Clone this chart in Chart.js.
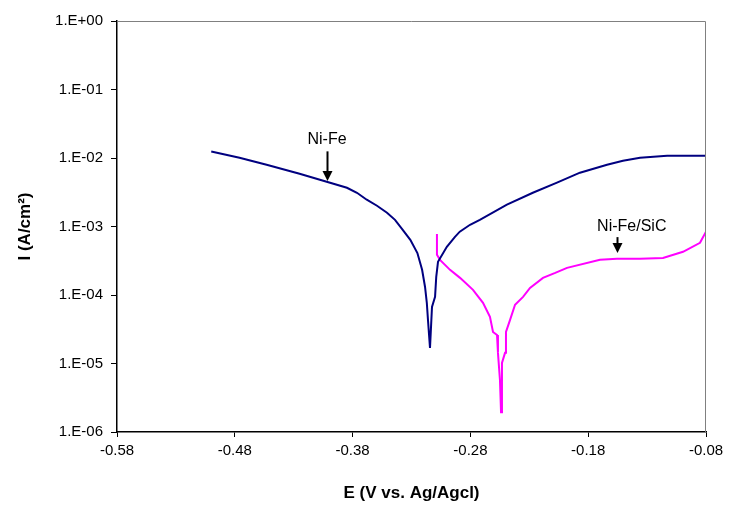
<!DOCTYPE html>
<html>
<head>
<meta charset="utf-8">
<script src="https://cdn.jsdelivr.net/npm/chart.js@4/dist/chart.umd.min.js"></script>
<style>
  html, body { margin: 0; padding: 0; background: #fff; }
  #wrap { width: 732px; height: 508px; }
</style>
</head>
<body>
<div id="wrap"><canvas id="tafelChart" width="732" height="508"></canvas></div>
<script>
// Tafel curves: potential E (V vs Ag/AgCl) and current density I (A/cm2)
const eNiFe = [-0.500, -0.476, -0.453, -0.425, -0.402, -0.3848, -0.3763, -0.368, -0.3593, -0.3508,
               -0.344, -0.3381, -0.331, -0.325, -0.321, -0.3185, -0.317, -0.316, -0.3143, -0.3126,
               -0.310, -0.309, -0.3075, -0.300, -0.2931, -0.289, -0.2803, -0.272, -0.249, -0.227,
               -0.2065, -0.187, -0.164, -0.1505, -0.136, -0.113, -0.080];
const iNiFe = [1.24e-2, 1.01e-2, 7.98e-3, 5.9e-3, 4.5e-3, 3.68e-3, 3.11e-3, 2.46e-3, 2.01e-3, 1.59e-3,
               1.25e-3, 9.25e-4, 6.4e-4, 4.1e-4, 2.33e-4, 1.31e-4, 7.7e-5, 4.3e-5, 1.69e-5, 6.7e-5,
               9.4e-5, 1.84e-4, 3.05e-4, 5.05e-4, 7.07e-4, 8.4e-4, 1.06e-3, 1.25e-3, 2.08e-3, 3.11e-3,
               4.36e-3, 6.1e-3, 7.98e-3, 9.1e-3, 1.01e-2, 1.08e-2, 1.08e-2];

const eNiFeSiC = [-0.3084, -0.3084, -0.3058, -0.2973, -0.2888, -0.2778, -0.2693, -0.2634, -0.2608, -0.2574,
                  -0.2566, -0.2549, -0.2540, -0.2532, -0.2506, -0.2498, -0.2464, -0.2421, -0.2353, -0.2294,
                  -0.2184, -0.208, -0.198, -0.170, -0.1556, -0.136, -0.1165, -0.0995, -0.0851, -0.080];
const iNiFeSiC = [7.8e-4, 3.86e-4, 3.26e-4, 2.33e-4, 1.78e-4, 1.19e-4, 7.7e-5, 4.8e-5, 2.89e-5, 2.61e-5,
                  1.43e-5, 5.7e-6, 1.95e-6, 1.02e-5, 1.43e-5, 2.89e-5, 4.3e-5, 7.2e-5, 9.4e-5, 1.27e-4,
                  1.78e-4, 2.1e-4, 2.49e-4, 3.26e-4, 3.37e-4, 3.37e-4, 3.48e-4, 4.27e-4, 5.78e-4, 8.4e-4];

const seriesNames = ['Ni-Fe', 'Ni-Fe/SiC'];

const xTickValues = [-0.58, -0.48, -0.38, -0.28, -0.18, -0.08];
const yTickValues = [1e-6, 1e-5, 1e-4, 1e-3, 1e-2, 1e-1, 1];
const yTickLabels = ['1.E-06', '1.E-05', '1.E-04', '1.E-03', '1.E-02', '1.E-01', '1.E+00'];

const FONT = "'Liberation Sans', Arial, sans-serif";

function toPoints(xs, ys) {
    return xs.map((x, i) => ({ x: x, y: ys[i] }));
}

// gray top/right frame plus the two arrow labels
const framePlugin = {
    id: 'frameAndLabels',
    afterDatasetsDraw(chart) {
        const ctx = chart.ctx;
        const a = chart.chartArea;
        const xs = chart.scales.x;
        const ys = chart.scales.y;

        ctx.save();
        ctx.strokeStyle = '#808080';
        ctx.lineWidth = 1;
        ctx.beginPath();
        ctx.moveTo(a.left, a.top + 0.5);
        ctx.lineTo(a.right - 0.5, a.top + 0.5);
        ctx.lineTo(a.right - 0.5, a.bottom);
        ctx.stroke();

        const labels = [
            { text: seriesNames[0], tx: -0.4017, ty: 1.85e-2, ax: -0.4017, y0: 1.25e-2, y1: 4.6e-3 },
            { text: seriesNames[1], tx: -0.143, ty: 1.0e-3, ax: -0.1556, y0: 7.0e-4, y1: 4.1e-4 }
        ];
        ctx.fillStyle = '#000';
        ctx.strokeStyle = '#000';
        ctx.font = '16px ' + FONT;
        ctx.textAlign = 'center';
        ctx.textBaseline = 'middle';
        labels.forEach(l => {
            ctx.fillText(l.text, xs.getPixelForValue(l.tx), ys.getPixelForValue(l.ty));
            const px = Math.round(xs.getPixelForValue(l.ax)) + 0.5;
            const p0 = ys.getPixelForValue(l.y0);
            const p1 = ys.getPixelForValue(l.y1);
            ctx.lineWidth = 2;
            ctx.beginPath();
            ctx.moveTo(px, p0);
            ctx.lineTo(px, p1 - 8);
            ctx.stroke();
            ctx.beginPath();
            ctx.moveTo(px - 5, p1 - 10);
            ctx.lineTo(px + 5, p1 - 10);
            ctx.lineTo(px, p1);
            ctx.closePath();
            ctx.fill();
        });
        ctx.restore();
    }
};

new Chart(document.getElementById('tafelChart').getContext('2d'), {
    type: 'scatter',
    data: {
        datasets: [{
            label: seriesNames[0],
            data: toPoints(eNiFe, iNiFe),
            showLine: true,
            borderColor: '#000080',
            borderWidth: 2,
            pointRadius: 0,
            tension: 0
        }, {
            label: seriesNames[1],
            data: toPoints(eNiFeSiC, iNiFeSiC),
            showLine: true,
            borderColor: '#ff00ff',
            borderWidth: 2,
            pointRadius: 0,
            tension: 0
        }]
    },
    options: {
        responsive: false,
        animation: false,
        devicePixelRatio: 1,
        layout: { padding: { top: 21, right: 26, left: 0, bottom: 0 } },
        plugins: {
            legend: { display: false },
            tooltip: { enabled: false }
        },
        scales: {
            x: {
                type: 'linear',
                min: -0.58,
                max: -0.08,
                afterBuildTicks: function(scale) {
                    scale.ticks = xTickValues.map(v => ({ value: v }));
                },
                afterFit: function(scale) { scale.height = 76; },
                ticks: {
                    color: '#000',
                    font: { family: FONT, size: 15 },
                    padding: 5,
                    maxRotation: 0,
                    callback: function(value) { return value.toFixed(2); }
                },
                grid: {
                    drawOnChartArea: false,
                    drawTicks: true,
                    tickLength: 5,
                    color: '#000'
                },
                border: { color: '#000', width: 1.5 },
                title: {
                    display: true,
                    text: 'E (V vs. Ag/Agcl)',
                    color: '#000',
                    font: { family: FONT, size: 17, weight: 'bold' },
                    padding: { top: 0, bottom: 4 }
                }
            },
            y: {
                type: 'logarithmic',
                min: 1e-6,
                max: 1,
                afterBuildTicks: function(scale) {
                    scale.ticks = yTickValues.map(v => ({ value: v }));
                },
                afterFit: function(scale) { scale.width = 117; },
                ticks: {
                    color: '#000',
                    font: { family: FONT, size: 15 },
                    padding: 8,
                    callback: function(value) {
                        const k = yTickValues.findIndex(v => Math.abs(Math.log10(v) - Math.log10(value)) < 1e-6);
                        return k >= 0 ? yTickLabels[k] : '';
                    }
                },
                grid: {
                    drawOnChartArea: false,
                    drawTicks: true,
                    tickLength: 6,
                    color: '#000'
                },
                border: { color: '#000', width: 1.5 },
                title: {
                    display: true,
                    text: 'I (A/cm\u00B2)',
                    color: '#000',
                    font: { family: FONT, size: 17, weight: 'bold' },
                    padding: { top: 15, bottom: 0 }
                }
            }
        }
    },
    plugins: [framePlugin]
});
</script>
</body>
</html>
